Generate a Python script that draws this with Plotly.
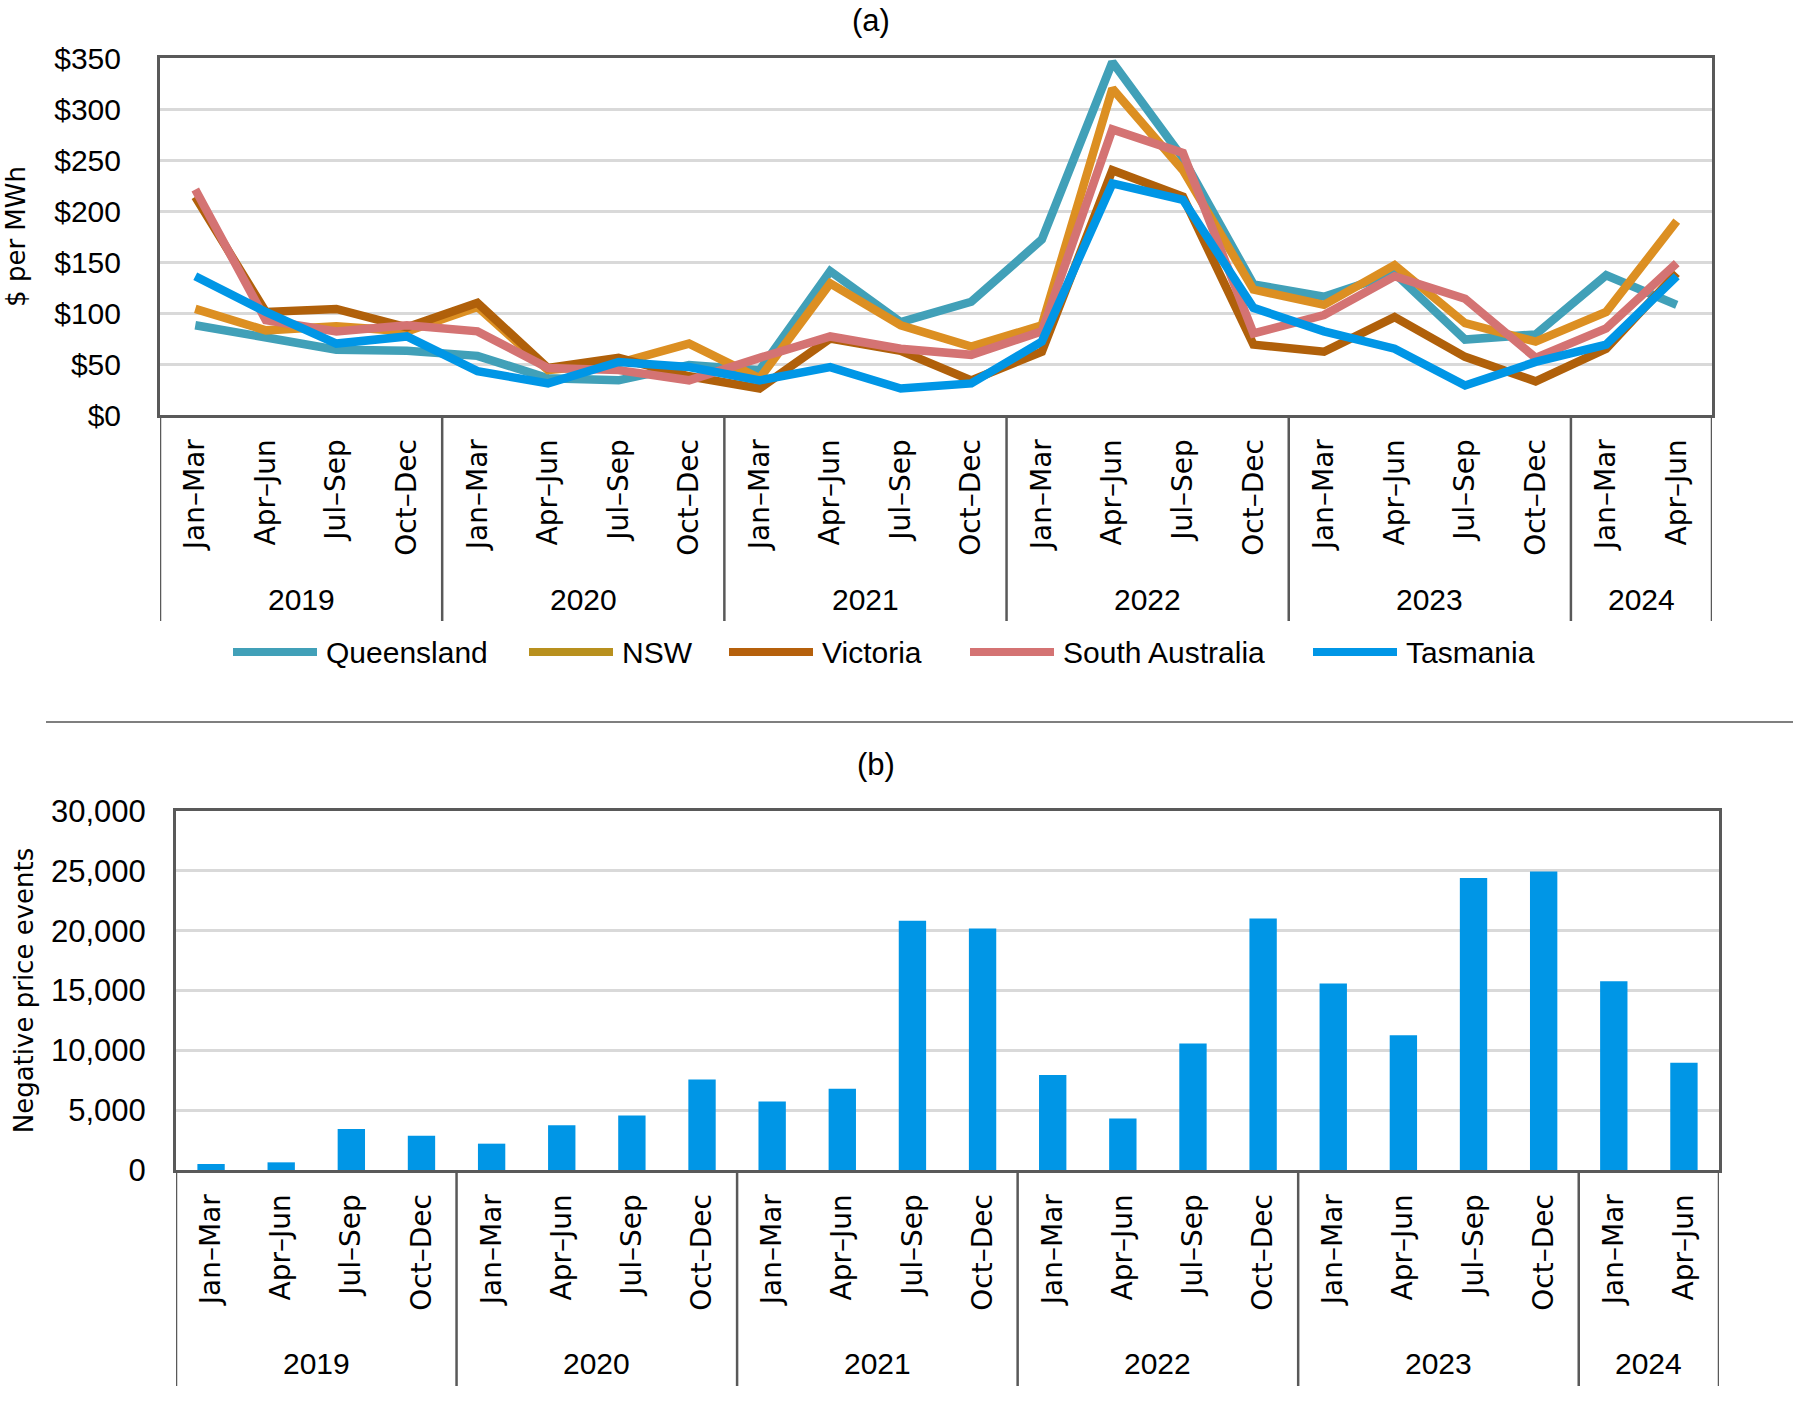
import plotly.graph_objects as go

# ---------------- data ----------------
years = ["2019"] * 4 + ["2020"] * 4 + ["2021"] * 4 + ["2022"] * 4 + ["2023"] * 4 + ["2024"] * 2
quarters = ["Jan–Mar", "Apr–Jun", "Jul–Sep", "Oct–Dec"] * 5 + ["Jan–Mar", "Apr–Jun"]

series_names = ["Queensland", "NSW", "Victoria", "South Australia", "Tasmania"]
queensland = [88, 77, 64, 63, 58, 36, 34, 49, 44, 141, 91, 111, 172, 346, 252, 128, 116, 139, 74, 79, 137, 108]
nsw = [104, 83, 87, 82, 106, 44, 51, 70, 36, 129, 88, 67, 88, 320, 240, 123, 108, 147, 90, 72, 101, 190]
victoria = [214, 101, 104, 86, 110, 46, 56, 38, 26, 75, 63, 34, 62, 240, 214, 69, 62, 96, 57, 33, 65, 139]
south_australia = [221, 93, 82, 88, 82, 46, 44, 34, 56, 77, 65, 59, 82, 280, 257, 80, 98, 136, 114, 56, 85, 149]
tasmania = [136, 101, 70, 77, 43, 31, 52, 47, 34, 47, 26, 31, 72, 227, 211, 105, 82, 65, 29, 52, 69, 136]

negative_price_events = [500, 640, 3420, 2870, 2200, 3730, 4560, 7570, 5730, 6790, 20820, 20180,
                         7930, 4310, 10570, 21010, 15590, 11270, 24410, 24940, 15780, 8960]

# ---------------- styling ----------------
W, H = 1793, 1413


def fx(p):
    return p / W


def fy(p):
    return 1 - p / H


NARROW = "Liberation Sans, Arial, sans-serif"
WIDE = "DejaVu Sans, Verdana, sans-serif"
AXIS_GRAY = "#595959"
GRID = "#D9D9D9"

LINE_COLORS = {
    "Queensland": "#41A0B8",
    "NSW": "#DC8F22",
    "Victoria": "#B0600A",
    "South Australia": "#D47373",
    "Tasmania": "#0096E6",
}
LEGEND_COLORS = {
    "Queensland": "#41A0B8",
    "NSW": "#B8901E",
    "Victoria": "#B5600C",
    "South Australia": "#D47373",
    "Tasmania": "#0096E6",
}
BAR_COLOR = "#0096E6"

x_idx = list(range(len(quarters)))

fig = go.Figure()
series_values = [queensland, nsw, victoria, south_australia, tasmania]
for name, vals in zip(series_names, series_values):
    fig.add_trace(go.Scatter(
        x=x_idx, y=vals, mode="lines", name=name,
        line=dict(color=LINE_COLORS[name], width=8.5),
        xaxis="x", yaxis="y", showlegend=False,
    ))

fig.add_trace(go.Bar(
    x=x_idx, y=negative_price_events, name="Negative price events",
    marker=dict(color=BAR_COLOR, line=dict(width=0)),
    xaxis="x2", yaxis="y2", showlegend=False,
))

# ---------------- year groups ----------------
groups = []
for i, y in enumerate(years):
    if groups and groups[-1][0] == y:
        groups[-1][2] = i
    else:
        groups.append([y, i, i])

shapes = []
annotations = []
panels = [
    # (xref, axis bottom px, divider bottom px, year label px)
    ("x", 415, 621, 599),
    ("x2", 1170, 1386, 1363),
]
for xref, ybot, ydiv, ylab in panels:
    bounds = [groups[0][1] - 0.5] + [g[2] + 0.5 for g in groups]
    for b in bounds:
        shapes.append(dict(type="line", xref=xref, yref="paper", x0=b, x1=b,
                           y0=fy(ybot), y1=fy(ydiv), line=dict(color=AXIS_GRAY, width=2.5)))
    for name, a, b in groups:
        annotations.append(dict(text=name, xref=xref, yref="paper", x=(a + b) / 2, y=fy(ylab),
                                showarrow=False, xanchor="center", yanchor="middle",
                                font=dict(family=NARROW, size=30, color="black")))

# separator line between the panels
shapes.append(dict(type="line", xref="paper", yref="paper", x0=fx(46), x1=1.0,
                   y0=fy(722), y1=fy(722), line=dict(color="#7F7F7F", width=2)))

# panel titles
annotations.append(dict(text="(a)", xref="paper", yref="paper", x=fx(871), y=fy(21),
                        showarrow=False, xanchor="center", yanchor="middle",
                        font=dict(family=NARROW, size=31, color="black")))
annotations.append(dict(text="(b)", xref="paper", yref="paper", x=fx(876), y=fy(764),
                        showarrow=False, xanchor="center", yanchor="middle",
                        font=dict(family=NARROW, size=31, color="black")))

# legend for panel (a)
legend_starts = [233, 529, 729, 970, 1313]
legend_y = 652
for name, x0 in zip(series_names, legend_starts):
    shapes.append(dict(type="line", xref="paper", yref="paper", x0=fx(x0), x1=fx(x0 + 84),
                       y0=fy(legend_y), y1=fy(legend_y),
                       line=dict(color=LEGEND_COLORS[name], width=8)))
    annotations.append(dict(text=name, xref="paper", yref="paper", x=fx(x0 + 91), y=fy(legend_y),
                            showarrow=False, xanchor="left", yanchor="middle",
                            font=dict(family=NARROW, size=30, color="black")))

common_x = dict(
    tickmode="array", tickvals=x_idx, ticktext=quarters, tickangle=-90,
    tickfont=dict(family=WIDE, size=28, color="black"),
    showline=True, mirror=True, linecolor=AXIS_GRAY, linewidth=3,
    showgrid=False, zeroline=False, ticks="", ticklabelstandoff=10,
    range=[-0.5, len(quarters) - 0.5], automargin=False,
)

fig.update_layout(
    width=W, height=H,
    margin=dict(l=0, r=0, t=0, b=0),
    paper_bgcolor="white", plot_bgcolor="white",
    showlegend=False,
    bargap=0.61,
    xaxis=dict(domain=[fx(160), fx(1712)], anchor="y", **common_x),
    yaxis=dict(
        domain=[fy(415), fy(58)], anchor="x", range=[0, 350], dtick=50, tickprefix="$",
        tickfont=dict(family=NARROW, size=30, color="black"),
        showgrid=True, gridcolor=GRID, gridwidth=3,
        showline=True, mirror=True, linecolor=AXIS_GRAY, linewidth=3,
        zeroline=False, ticks="", ticklabelstandoff=30, automargin=False,
        title=dict(text="$ per MWh", font=dict(family=WIDE, size=26, color="black"), standoff=22),
    ),
    xaxis2=dict(domain=[fx(176), fx(1719)], anchor="y2", **common_x),
    yaxis2=dict(
        domain=[fy(1170), fy(811)], anchor="x2", range=[0, 30000], dtick=5000, tickformat=",",
        tickfont=dict(family=NARROW, size=31, color="black"),
        showgrid=True, gridcolor=GRID, gridwidth=3,
        showline=True, mirror=True, linecolor=AXIS_GRAY, linewidth=3,
        zeroline=False, ticks="", ticklabelstandoff=21, automargin=False,
        title=dict(text="Negative price events", font=dict(family=WIDE, size=26, color="black"), standoff=10),
    ),
    shapes=shapes,
    annotations=annotations,
)

fig.write_html("out.html")
